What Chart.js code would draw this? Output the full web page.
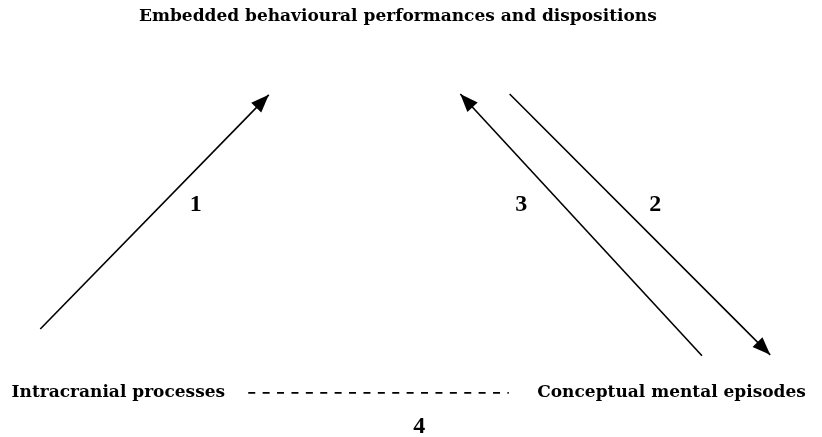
<!DOCTYPE html>
<html>
<head>
<meta charset="utf-8">
<script src="https://cdn.jsdelivr.net/npm/chart.js@4"></script>
<style>
  html, body { margin: 0; padding: 0; background: #fff; }
  #wrap { width: 822px; height: 437px; }
</style>
</head>
<body>
<div id="wrap"><canvas id="diagram"></canvas></div>
<script>
// diagram coordinates, 0..100 on both axes (y up)
var arrowFrom = [[4.9, 24.7], [85.4, 18.6], [62.0, 78.5]];
var arrowTo   = [[32.7, 78.3], [56.0, 78.5], [93.7, 18.8]];
var dashFrom  = [30.2, 10.1];
var dashTo    = [61.9, 10.1];

var nodeNames  = ['Embedded behavioural performances and dispositions', 'Intracranial processes', 'Conceptual mental episodes'];
var nodePos    = [[48.4, 95.2], [14.4, 9.15], [81.7, 9.15]];
var linkLabels = ['1', '2', '3', '4'];
var linkPos    = [[23.8, 51.7], [79.7, 51.7], [63.4, 51.7], [51.0, 0.9]];

var datasets = [];
for (var i = 0; i < arrowFrom.length; i++) {
    datasets.push({
        label: 'arrow ' + (i + 1),
        data: [{x: arrowFrom[i][0], y: arrowFrom[i][1]}, {x: arrowTo[i][0], y: arrowTo[i][1]}],
        showLine: true,
        borderColor: '#000',
        borderWidth: 1.6,
        pointRadius: 0,
        arrow: true
    });
}
datasets.push({
    label: 'dashed',
    data: [{x: dashFrom[0], y: dashFrom[1]}, {x: dashTo[0], y: dashTo[1]}],
    showLine: true,
    borderColor: '#000',
    borderWidth: 1.8,
    borderDash: [7, 7.4],
    pointRadius: 0
});

var diagramPlugin = {
    id: 'diagram',
    afterDatasetsDraw: function(chart) {
        var ctx = chart.ctx;
        var xs = chart.scales.x, ys = chart.scales.y;
        ctx.save();
        ctx.fillStyle = '#000';

        // arrow heads
        chart.data.datasets.forEach(function(ds) {
            if (!ds.arrow) return;
            var a = ds.data[0], b = ds.data[1];
            var x0 = xs.getPixelForValue(a.x), y0 = ys.getPixelForValue(a.y);
            var x1 = xs.getPixelForValue(b.x), y1 = ys.getPixelForValue(b.y);
            var ang = Math.atan2(y1 - y0, x1 - x0);
            var len = 18, half = 7;
            ctx.beginPath();
            ctx.moveTo(x1, y1);
            ctx.lineTo(x1 - len * Math.cos(ang) + half * Math.sin(ang), y1 - len * Math.sin(ang) - half * Math.cos(ang));
            ctx.lineTo(x1 - len * Math.cos(ang) - half * Math.sin(ang), y1 - len * Math.sin(ang) + half * Math.cos(ang));
            ctx.closePath();
            ctx.fill();
        });

        // texts
        ctx.font = 'bold 17px "DejaVu Serif", serif';
        ctx.textAlign = 'center';
        ctx.textBaseline = 'alphabetic';
        nodeNames.forEach(function(t, i) {
            ctx.fillText(t, xs.getPixelForValue(nodePos[i][0]), ys.getPixelForValue(nodePos[i][1]));
        });
        ctx.font = 'bold 24px "Liberation Serif", serif';
        linkLabels.forEach(function(t, i) {
            ctx.fillText(t, xs.getPixelForValue(linkPos[i][0]), ys.getPixelForValue(linkPos[i][1]));
        });
        ctx.restore();
    }
};

new Chart(document.getElementById('diagram'), {
    type: 'scatter',
    data: { datasets: datasets },
    options: {
        responsive: true,
        maintainAspectRatio: false,
        animation: false,
        layout: { padding: 0 },
        plugins: { legend: { display: false }, tooltip: { enabled: false } },
        scales: {
            x: { type: 'linear', min: 0, max: 100, display: false },
            y: { type: 'linear', min: 0, max: 100, display: false }
        }
    },
    plugins: [diagramPlugin]
});
</script>
</body>
</html>
